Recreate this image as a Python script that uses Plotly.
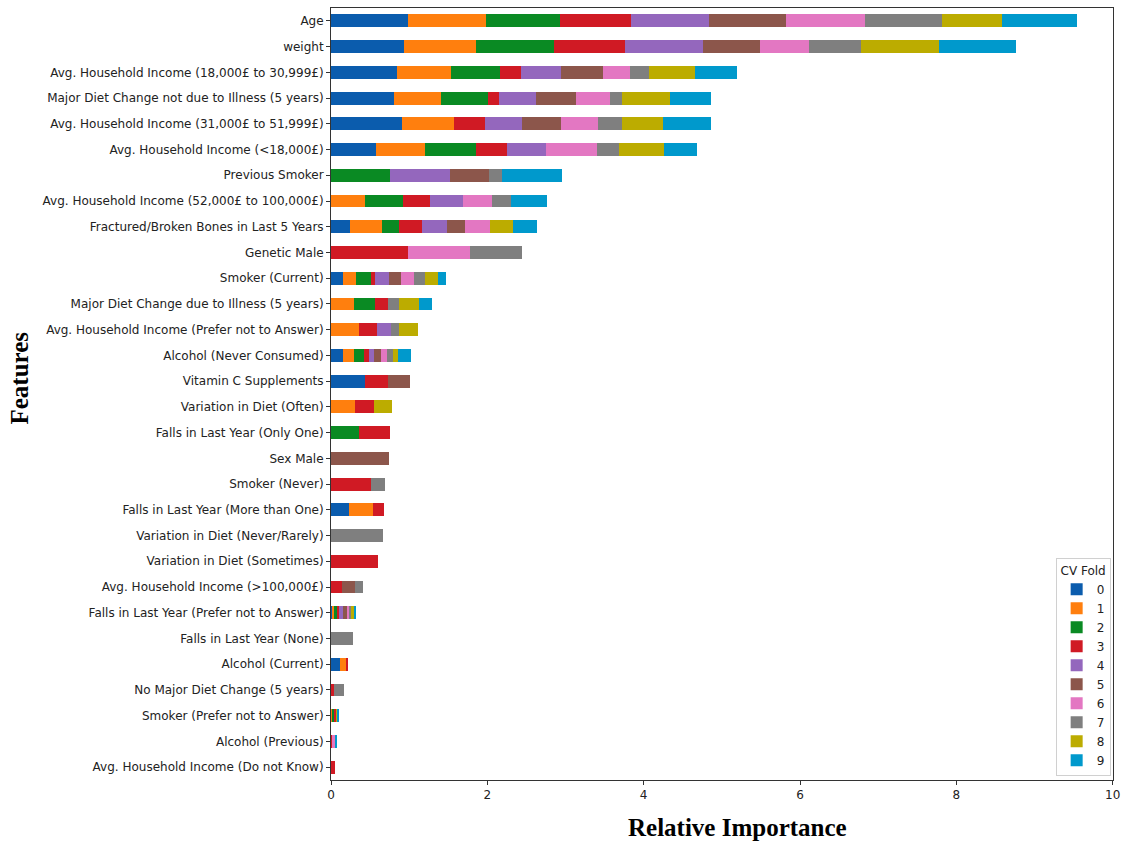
import plotly.graph_objects as go

# Feature names, listed top to bottom as drawn
features = [
    "Age",
    "weight",
    "Avg. Household Income (18,000£ to 30,999£)",
    "Major Diet Change not due to Illness (5 years)",
    "Avg. Household Income (31,000£ to 51,999£)",
    "Avg. Household Income (<18,000£)",
    "Previous Smoker",
    "Avg. Household Income (52,000£ to 100,000£)",
    "Fractured/Broken Bones in Last 5 Years",
    "Genetic Male",
    "Smoker (Current)",
    "Major Diet Change due to Illness (5 years)",
    "Avg. Household Income (Prefer not to Answer)",
    "Alcohol (Never Consumed)",
    "Vitamin C Supplements",
    "Variation in Diet (Often)",
    "Falls in Last Year (Only One)",
    "Sex Male",
    "Smoker (Never)",
    "Falls in Last Year (More than One)",
    "Variation in Diet (Never/Rarely)",
    "Variation in Diet (Sometimes)",
    "Avg. Household Income (>100,000£)",
    "Falls in Last Year (Prefer not to Answer)",
    "Falls in Last Year (None)",
    "Alcohol (Current)",
    "No Major Diet Change (5 years)",
    "Smoker (Prefer not to Answer)",
    "Alcohol (Previous)",
    "Avg. Household Income (Do not Know)",
]

# Relative importance per cross-validation fold (same order as features)
fold0 = [0.981, 0.935, 0.846, 0.800, 0.905, 0.571, 0, 0, 0.245, 0, 0.156, 0, 0, 0.156, 0.440,
         0, 0, 0, 0, 0.232, 0, 0, 0, 0.025, 0, 0.114, 0, 0, 0, 0]
fold1 = [0.999, 0.918, 0.693, 0.605, 0.665, 0.635, 0, 0.440, 0.406, 0, 0.165, 0.292, 0.352, 0.136, 0,
         0.308, 0, 0, 0, 0.301, 0, 0, 0, 0.021, 0, 0.089, 0, 0.022, 0, 0]
fold2 = [0.948, 1.003, 0.627, 0.609, 0, 0.647, 0.758, 0.477, 0.225, 0, 0.195, 0.270, 0, 0.136, 0,
         0, 0.352, 0, 0, 0, 0, 0, 0, 0.025, 0, 0, 0, 0.020, 0, 0]
fold3 = [0.914, 0.901, 0.270, 0.135, 0.397, 0.402, 0, 0.348, 0.288, 0.981, 0.042, 0.161, 0.241, 0.058, 0.283,
         0.237, 0.397, 0, 0.516, 0.148, 0, 0.605, 0.140, 0.034, 0, 0.017, 0.034, 0.025, 0.012, 0.051]
fold4 = [0.997, 1.006, 0.511, 0.470, 0.482, 0.499, 0.765, 0.423, 0.317, 0, 0.181, 0, 0.169, 0.060, 0,
         0, 0, 0, 0, 0, 0, 0, 0, 0.047, 0, 0, 0, 0, 0, 0]
fold5 = [0.986, 0.720, 0.538, 0.520, 0.495, 0, 0.495, 0, 0.236, 0, 0.152, 0, 0, 0.093, 0.283,
         0, 0, 0.740, 0, 0, 0, 0, 0.165, 0.051, 0, 0, 0, 0, 0, 0]
fold6 = [1.006, 0.635, 0.334, 0.424, 0.466, 0.643, 0, 0.372, 0.317, 0.796, 0.165, 0, 0, 0.072, 0,
         0, 0, 0, 0, 0, 0, 0, 0, 0.038, 0, 0, 0, 0, 0.035, 0]
fold7 = [0.990, 0.656, 0.254, 0.165, 0.317, 0.287, 0.174, 0.237, 0, 0.660, 0.148, 0.152, 0.114, 0.080, 0,
         0, 0, 0, 0.181, 0, 0.664, 0, 0.105, 0.021, 0.275, 0, 0.135, 0.008, 0, 0]
fold8 = [0.761, 1.003, 0.580, 0.613, 0.524, 0.580, 0, 0, 0.297, 0, 0.165, 0.254, 0.241, 0.072, 0,
         0.237, 0, 0, 0, 0, 0, 0, 0, 0.030, 0, 0, 0, 0.012, 0, 0]
fold9 = [0.964, 0.990, 0.541, 0.524, 0.613, 0.423, 0.769, 0.470, 0.299, 0, 0.105, 0.169, 0, 0.165, 0,
         0, 0, 0, 0, 0, 0, 0, 0, 0.034, 0, 0, 0, 0.020, 0.033, 0]

fold_names = ["0", "1", "2", "3", "4", "5", "6", "7", "8", "9"]
fold_colors = ["#0b5cad", "#ff7f0e", "#0a8a23", "#d01a24", "#9467bd",
               "#8c564b", "#e377c2", "#7f7f7f", "#bcac00", "#0099cc"]

x_ticks = [0, 2, 4, 6, 8, 10]

folds = [fold0, fold1, fold2, fold3, fold4, fold5, fold6, fold7, fold8, fold9]

fig = go.Figure()
for name, values, color in zip(fold_names, folds, fold_colors):
    fig.add_trace(go.Bar(
        y=features,
        x=values,
        name=name,
        orientation="h",
        width=0.5,
        marker=dict(color=color, line=dict(width=0)),
    ))

tick_font = dict(family="DejaVu Sans", size=12, color="#222222")
title_font = dict(family="Liberation Serif", size=25, color="#000000")

fig.update_layout(
    barmode="stack",
    width=1125,
    height=843,
    margin=dict(l=331, r=12, t=8, b=63),
    plot_bgcolor="white",
    paper_bgcolor="white",
    showlegend=True,
    legend=dict(
        title=dict(text="CV Fold", side="top center", font=dict(family="DejaVu Sans", size=12, color="#222")),
        font=dict(family="DejaVu Sans", size=12, color="#222"),
        x=0.997, y=0.005, xanchor="right", yanchor="bottom",
        bgcolor="white", bordercolor="#d0d0d0", borderwidth=1,
        traceorder="normal",
        itemwidth=30,
    ),
    xaxis=dict(
        range=[0, 10.004],
        tickvals=x_ticks,
        ticktext=[str(t) for t in x_ticks],
        ticks="outside", ticklen=4, tickcolor="#333",
        showgrid=False, zeroline=False,
        showline=True, linecolor="#333", linewidth=1, mirror=True,
        tickfont=tick_font,
        ticklabeloverflow="allow",
        automargin=False,
    ),
    yaxis=dict(
        type="category",
        categoryorder="array",
        categoryarray=features,
        range=[len(features) - 0.5, -0.5],
        ticks="outside", ticklen=4, tickcolor="#333",
        showgrid=False, zeroline=False,
        showline=True, linecolor="#333", linewidth=1, mirror=True,
        tickfont=tick_font,
    ),
    annotations=[
        dict(text="<b>Relative Importance</b>", xref="paper", yref="paper",
             x=0.52, y=-0.062, xanchor="center", yanchor="middle",
             showarrow=False, font=title_font),
        dict(text="<b>Features</b>", xref="paper", yref="paper",
             x=-0.398, y=0.521, xanchor="center", yanchor="middle", textangle=-90,
             showarrow=False, font=title_font),
    ],
)

fig.write_html("out.html")
